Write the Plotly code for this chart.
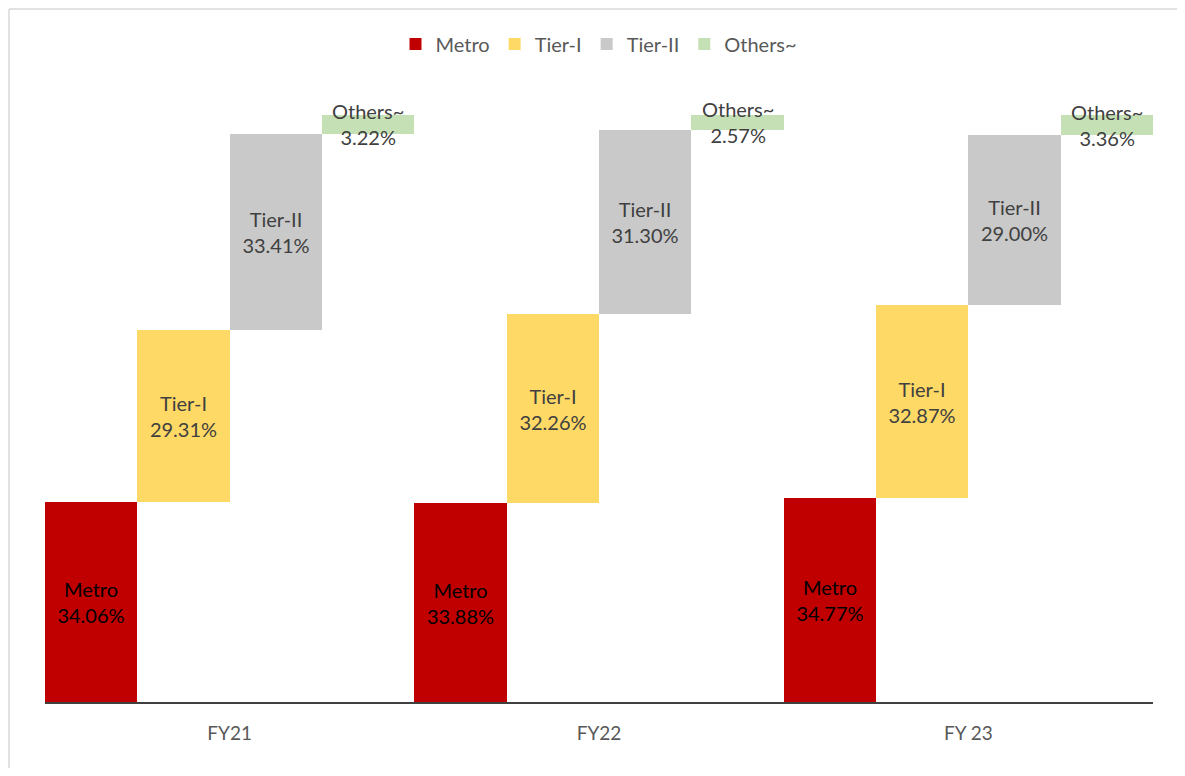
import plotly.graph_objects as go

years = ["FY21", "FY22", "FY 23"]
series = ["Metro", "Tier-I", "Tier-II", "Others~"]
metro = [34.06, 33.88, 34.77]
tier1 = [29.31, 32.26, 32.87]
tier2 = [33.41, 31.30, 29.00]
others = [3.22, 2.57, 3.36]

colors = ["#C00000", "#FFD966", "#C9C9C9", "#C5E0B4"]
text_colors = ["#000000", "#404040", "#404040", "#404040"]
FONT = "Lato, Carlito, Calibri, 'Liberation Sans', sans-serif"

values = [metro, tier1, tier2, others]
bases = []
running = [0.0] * len(years)
for vals in values:
    bases.append(list(running))
    running = [r + v for r, v in zip(running, vals)]

fig = go.Figure()
for i, (name, vals) in enumerate(zip(series, values)):
    inside = i < 3
    fig.add_trace(go.Bar(
        name=name, x=years, y=vals, base=bases[i],
        marker=dict(color=colors[i], line=dict(width=0)),
        text=[f"{name}<br>{v:.2f}%" for v in vals] if inside else None,
        textposition="inside" if inside else "none",
        insidetextanchor="middle",
        textfont=dict(family=FONT, size=20, color=text_colors[i]),
        hoverinfo="skip",
    ))

n = len(series)
for j, y in enumerate(years):
    xc = j + (3 - (n - 1) / 2) / n
    fig.add_annotation(
        x=xc, y=bases[3][j] + others[j] / 2, xref="x", yref="y",
        text=f"Others~<br>{others[j]:.2f}%", showarrow=False,
        font=dict(family=FONT, size=20, color="#404040"),
    )

# page body has an 8px margin; size the figure so the page doesn't scroll
W, HT = 1169, 760
ml = 37
PW = 1108
mr = W - ml - PW
plot_top = 80
plot_bottom = 694
H = plot_bottom - plot_top
ymax = 100 * H / 587.0

# chart-area border (left and top edges visible in the reference)
xl = (-ml + 1) / PW
yt = 1 + (plot_top - 1) / H
fig.add_shape(type="line", xref="paper", yref="paper",
              x0=xl, x1=xl, y0=-(HT - plot_bottom) / H, y1=yt,
              line=dict(color="#D9D9D9", width=1.5), layer="below")
fig.add_shape(type="line", xref="paper", yref="paper",
              x0=xl, x1=(PW + mr) / PW, y0=yt, y1=yt,
              line=dict(color="#D9D9D9", width=1.5), layer="below")

fig.update_layout(
    width=W, height=HT,
    barmode="group", bargap=0, bargroupgap=0,
    plot_bgcolor="white", paper_bgcolor="white",
    margin=dict(l=ml, r=mr, t=plot_top, b=HT - plot_bottom, pad=0),
    showlegend=True,
    legend=dict(orientation="h", x=0.5, xanchor="center",
                y=1 + (plot_top - 36) / H, yref="paper", yanchor="middle",
                font=dict(family=FONT, size=20, color="#595959"),
                traceorder="normal"),
    xaxis=dict(showline=True, linecolor="#404040", linewidth=1.5, ticks="",
               tickfont=dict(family=FONT, size=19, color="#595959"),
               ticklabelstandoff=13,
               showgrid=False, zeroline=False),
    yaxis=dict(range=[0, ymax], visible=False, showgrid=False, zeroline=False),
)

fig.write_html("out.html")
